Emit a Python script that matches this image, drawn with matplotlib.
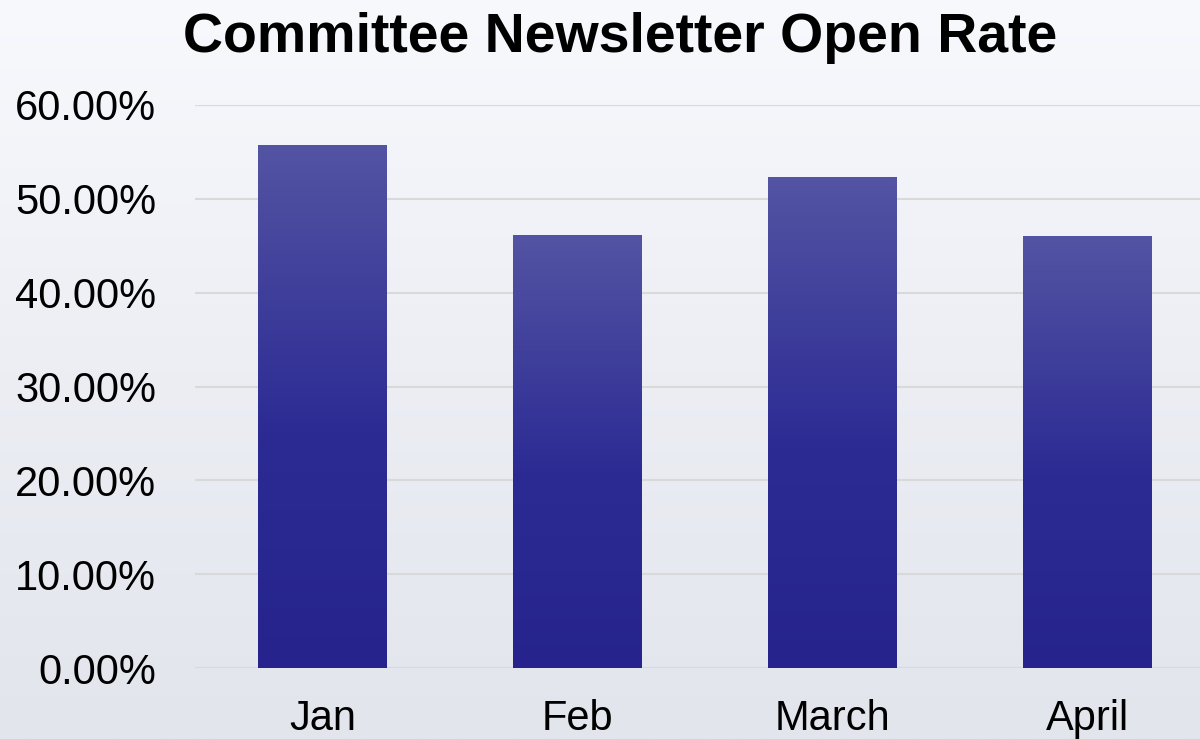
import numpy as np
import matplotlib
matplotlib.use("Agg")
import matplotlib.pyplot as plt
from matplotlib.ticker import FuncFormatter
from matplotlib.colors import LinearSegmentedColormap

# Data
months = ["Jan", "Feb", "March", "April"]
open_rate = [55.75, 46.15, 52.3, 46.05]
y_ticks = [0, 10, 20, 30, 40, 50, 60]

plt.rcParams['font.family'] = ['Liberation Sans', 'DejaVu Sans']

fig = plt.figure(figsize=(12, 7.39), dpi=100)

# Background (light water-like gradient)
bg = fig.add_axes([0, 0, 1, 1], zorder=-10)
bg_cmap = LinearSegmentedColormap.from_list("bg", ["#e2e5ec", "#eceef4", "#f7f9fd"])
bg.imshow(np.linspace(0, 1, 256).reshape(-1, 1), aspect='auto', cmap=bg_cmap,
          origin='lower', extent=[0, 1, 0, 1])
bg.axis('off')

# Plot area
ax = fig.add_axes([195 / 1200, 71 / 739, 1020 / 1200, 563 / 739])
ax.patch.set_alpha(0)

x = np.arange(len(months))
bars = ax.bar(x, open_rate, width=0.505, color='none', zorder=3)

# Gradient fill for bars
bar_cmap = LinearSegmentedColormap.from_list(
    "bar", [(0, "#26248c"), (0.45, "#2c2b94"), (1, "#5354a3")])
grad = np.linspace(0, 1, 256).reshape(-1, 1)
for b in bars:
    x0, y0 = b.get_x(), b.get_y()
    w, h = b.get_width(), b.get_height()
    im = ax.imshow(grad, aspect='auto', cmap=bar_cmap, origin='lower',
                   extent=[x0, x0 + w, y0, y0 + h], zorder=3)
    im.set_clip_path(b)

ax.set_xlim(-0.5, 3.5)
ax.set_ylim(0, 60)
ax.set_yticks(y_ticks)
ax.yaxis.set_major_formatter(FuncFormatter(lambda v, p: "{:.2f}%".format(v)))
ax.set_xticks(x)
ax.set_xticklabels(months)

ax.grid(axis='y', color='#d9d9d9', linewidth=1.5, zorder=0)
ax.tick_params(axis='y', length=0, pad=28, labelsize=30)
ax.tick_params(axis='x', length=0, pad=22, labelsize=30)
for s in ax.spines.values():
    s.set_visible(False)

fig.text(620 / 1200, 1 - 52 / 739, "Committee Newsletter Open Rate",
         ha='center', va='baseline', fontsize=40, fontweight='bold')

fig.savefig("out.png", dpi=100)
